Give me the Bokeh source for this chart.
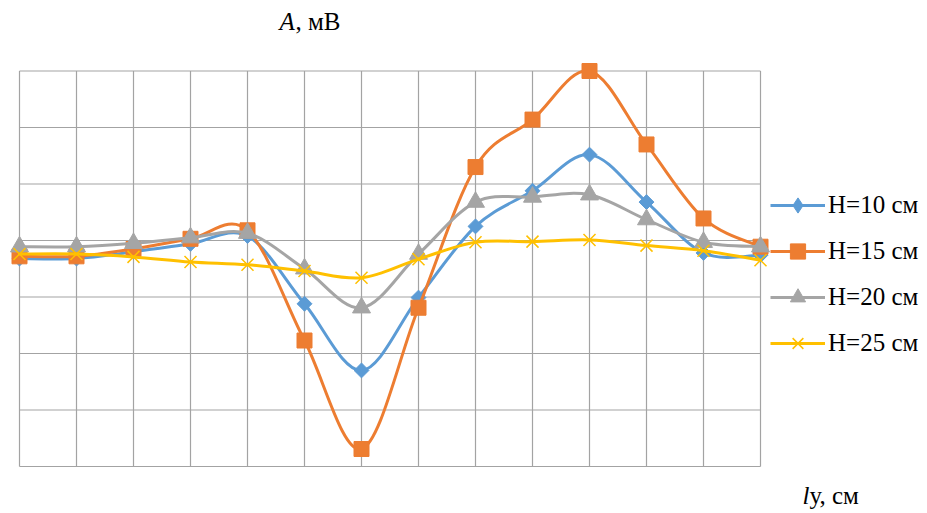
import math
from bokeh.plotting import figure
from bokeh.models import (Label, Legend, LegendItem, Range1d, ColumnDataSource)
from bokeh.embed import file_html
from bokeh.resources import INLINE

# ---- data ----
ly = [0, 2, 4, 6, 8, 10, 12, 14, 16, 18, 20, 22, 24, 26]
h10 = [-0.32, -0.32, -0.20, -0.06, 0.08, -1.12, -2.30, -1.01, 0.25, 0.88, 1.52, 0.68, -0.22, -0.26]
h15 = [-0.28, -0.28, -0.15, 0.03, 0.18, -1.77, -3.69, -1.19, 1.30, 2.14, 3.00, 1.70, 0.39, -0.11]
h20 = [-0.11, -0.11, -0.05, 0.05, 0.13, -0.50, -1.19, -0.24, 0.68, 0.77, 0.81, 0.37, -0.03, -0.11]
h25 = [-0.24, -0.24, -0.29, -0.38, -0.43, -0.54, -0.66, -0.33, -0.03, -0.02, 0.01, -0.09, -0.18, -0.35]
series_names = ["H=10 см", "H=15 см", "H=20 см", "H=25 см"]
x_ticks = ly
y_ticks = [-4, -3, -2, -1, 0, 1, 2, 3]

colors = ["#5B9BD5", "#ED7D31", "#A5A5A5", "#FFC000"]
NAN = float("nan")

# ---- layout (pixels) ----
W, H = 927, 513
PL, PR, PT, PB = 19, 760, 70.5, 466     # plot-area box on the canvas
xs_per_px = (x_ticks[-1] - x_ticks[0]) / (PR - PL)
ys_per_px = (y_ticks[-1] - y_ticks[0]) / (PB - PT)
x_rng = Range1d(x_ticks[0] - PL * xs_per_px, x_ticks[-1] + (W - PR) * xs_per_px)
y_rng = Range1d(y_ticks[0] - (H - PB) * ys_per_px, y_ticks[-1] + PT * ys_per_px)

p = figure(width=W, height=H, output_backend="svg", toolbar_location=None,
           x_range=x_rng, y_range=y_rng, min_border=0)
p.xaxis.visible = False
p.yaxis.visible = False
p.xgrid.visible = False
p.ygrid.visible = False
p.outline_line_color = None
p.background_fill_color = "white"
p.border_fill_color = "white"

# gridlines of the plot area, from the tick lists
GRID = "#a3a3a3"
p.segment(x0=x_ticks, y0=[y_ticks[0]] * len(x_ticks), x1=x_ticks,
          y1=[y_ticks[-1]] * len(x_ticks), line_color=GRID, line_width=1.2)
p.segment(x0=[x_ticks[0]] * len(y_ticks), y0=y_ticks, x1=[x_ticks[-1]] * len(y_ticks),
          y1=y_ticks, line_color=GRID, line_width=1.2)


def smooth_segments(xs, ys):
    n = len(xs)
    d = dict(x0=[], y0=[], x1=[], y1=[], cx0=[], cy0=[], cx1=[], cy1=[])
    for i in range(n - 1):
        xm, ym = (xs[i - 1], ys[i - 1]) if i > 0 else (xs[i], ys[i])
        xp, yp = (xs[i + 2], ys[i + 2]) if i + 2 < n else (xs[i + 1], ys[i + 1])
        d["x0"].append(xs[i]); d["y0"].append(ys[i])
        d["x1"].append(xs[i + 1]); d["y1"].append(ys[i + 1])
        d["cx0"].append(xs[i] + (xs[i + 1] - xm) / 6)
        d["cy0"].append(ys[i] + (ys[i + 1] - ym) / 6)
        d["cx1"].append(xs[i + 1] - (xp - xs[i]) / 6)
        d["cy1"].append(ys[i + 1] - (yp - ys[i]) / 6)
    return d


all_series = [h10, h15, h20, h25]
items = []
for k, ys in enumerate(all_series):
    c = colors[k]
    p.bezier(source=ColumnDataSource(smooth_segments(ly, ys)),
             x0="x0", y0="y0", x1="x1", y1="y1",
             cx0="cx0", cy0="cy0", cx1="cx1", cy1="cy1",
             line_color=c, line_width=3, line_cap="round")
    if k == 0:
        p.scatter(ly, ys, marker="square", angle=math.pi / 4, size=10.5,
                  fill_color=c, line_color=c)
        leg_m = p.scatter([NAN], [NAN], marker="diamond", fill_color=c, line_color=c)
    elif k == 1:
        p.scatter(ly, ys, marker="square", size=15, fill_color=c, line_color=c)
        leg_m = p.scatter([NAN], [NAN], marker="square", fill_color=c, line_color=c)
    elif k == 2:
        p.scatter(ly, ys, marker="triangle", size=18, fill_color=c, line_color=c)
        leg_m = p.scatter([NAN], [NAN], marker="triangle", fill_color=c, line_color=c)
    else:
        p.scatter(ly, ys, marker="x", size=17, line_color=c, line_width=1.5)
        leg_m = p.scatter([NAN], [NAN], marker="x", line_color=c, line_width=1.5)
    leg_l = p.line([NAN, NAN], [NAN, NAN], line_color=c, line_width=3)
    items.append(LegendItem(label=series_names[k], renderers=[leg_l, leg_m]))

legend = Legend(items=items, location=(770, 151), padding=0, margin=0,
                glyph_width=55, glyph_height=38, label_height=38, spacing=8,
                label_standoff=3, label_text_font="Liberation Serif",
                label_text_font_size="25px", label_text_color="black",
                border_line_alpha=0, background_fill_alpha=0)
p.add_layout(legend, "center")

# titles
p.add_layout(Label(x=279, y=492, x_units="screen", y_units="screen", text="A",
                   text_font="Liberation Serif", text_font_style="italic",
                   text_font_size="25px", text_color="black",
                   text_baseline="alphabetic"))
p.add_layout(Label(x=295, y=492, x_units="screen", y_units="screen", text=", мВ",
                   text_font="Liberation Serif", text_font_size="25px",
                   text_color="black", text_baseline="alphabetic"))
p.add_layout(Label(x=802, y=18, x_units="screen", y_units="screen", text="l",
                   text_font="Liberation Serif", text_font_style="italic",
                   text_font_size="25px", text_color="black",
                   text_baseline="alphabetic"))
p.add_layout(Label(x=809, y=18, x_units="screen", y_units="screen", text="у, см",
                   text_font="Liberation Serif", text_font_size="25px",
                   text_color="black", text_baseline="alphabetic"))

open("out.html", "w").write(file_html(p, INLINE))
